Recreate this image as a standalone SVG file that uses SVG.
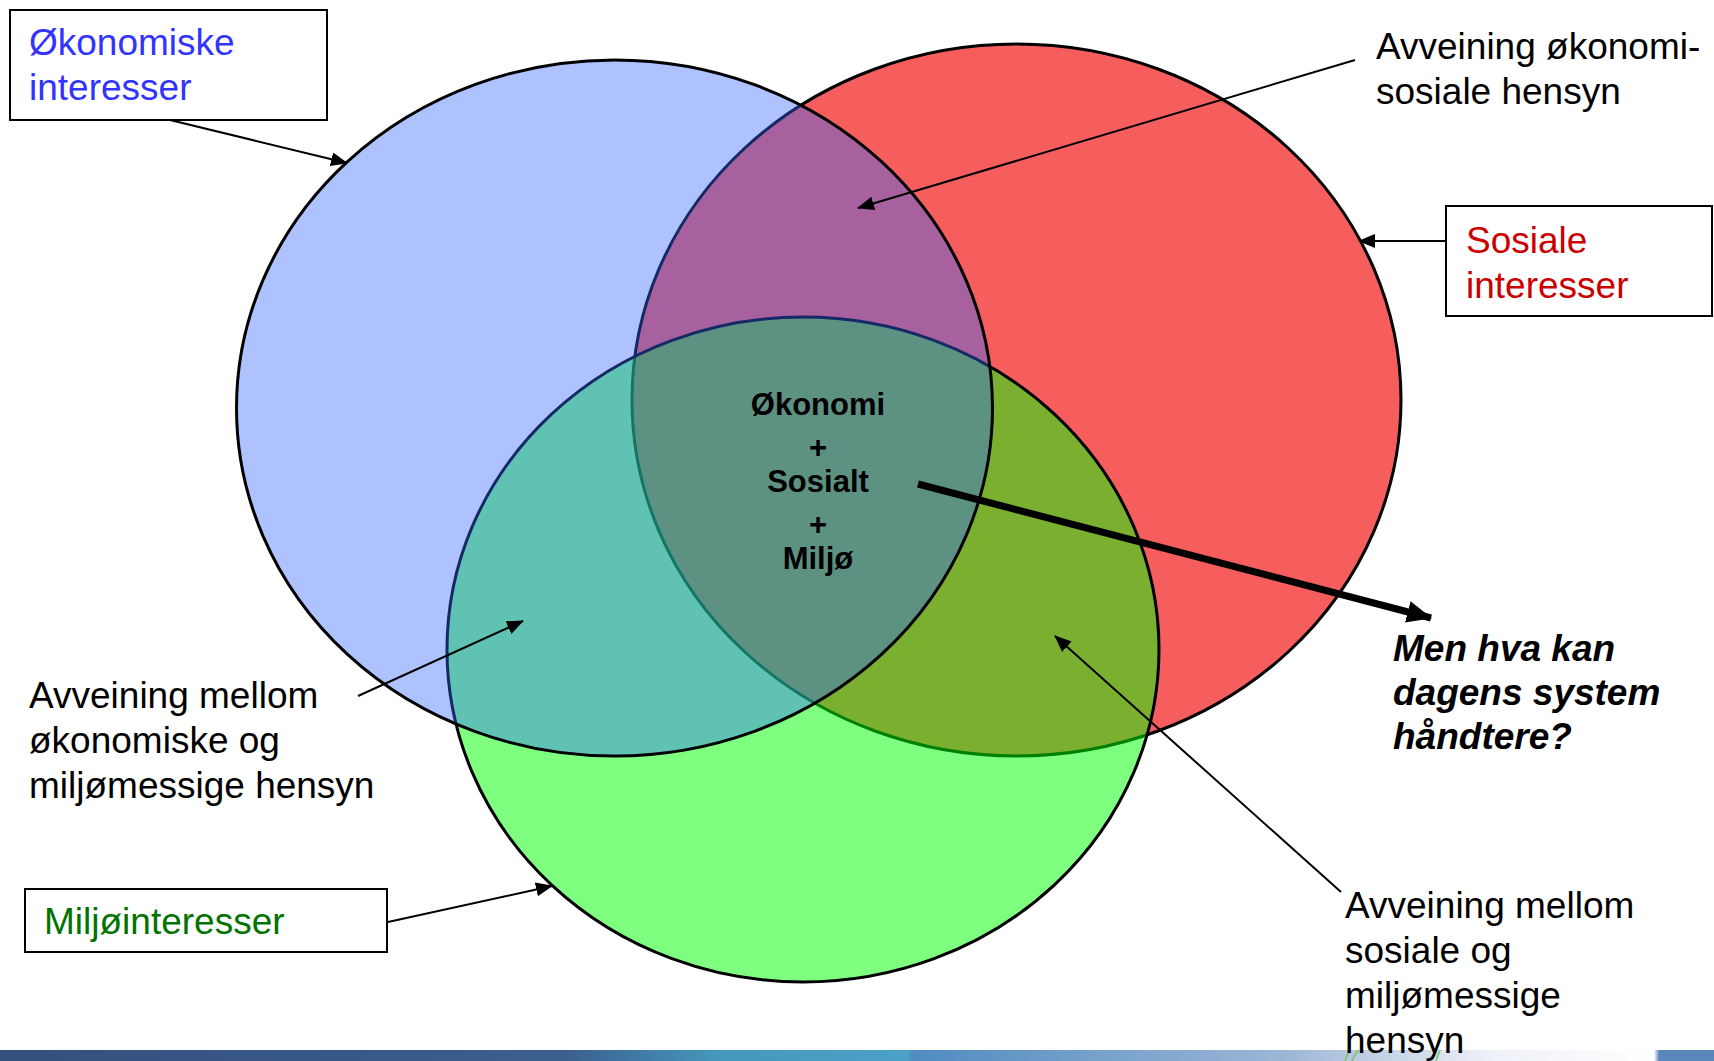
<svg xmlns="http://www.w3.org/2000/svg" width="1714" height="1061" viewBox="0 0 1714 1061">
<defs>
<style>
.t{font-family:"Liberation Sans",Arial,sans-serif;font-size:37px;fill:#000}
.c{font-family:"Liberation Sans",Arial,sans-serif;font-size:31px;font-weight:bold;fill:#000;text-anchor:middle}
.q{font-family:"Liberation Sans",Arial,sans-serif;font-size:37px;font-weight:bold;font-style:italic;fill:#000}
.box{fill:#fff;stroke:#000;stroke-width:2}
.ell{stroke:#000;stroke-width:3}
.con{stroke:#000;stroke-width:2;fill:none;marker-end:url(#ah)}
.grass{stroke:#7DBF5A;stroke-width:2;fill:none;opacity:0.8}
</style>
<marker id="ah" markerUnits="userSpaceOnUse" markerWidth="18" markerHeight="14" refX="16" refY="7" orient="auto">
<path d="M0,0 L17,7 L0,14 Z" fill="#000"/>
</marker>
<marker id="ahb" markerUnits="userSpaceOnUse" markerWidth="26" markerHeight="24" refX="24" refY="12" orient="auto">
<path d="M0,1 L25,12 L0,23 Z" fill="#000"/>
</marker>
<linearGradient id="bar" x1="0" y1="0" x2="1" y2="0">
<stop offset="0" stop-color="#34507E"/>
<stop offset="0.33" stop-color="#3B5F8F"/>
<stop offset="0.42" stop-color="#4698BC"/>
<stop offset="0.53" stop-color="#4AA2C6"/>
<stop offset="0.532" stop-color="#4F8CC0"/>
<stop offset="0.75" stop-color="#9DB6D6"/>
<stop offset="0.87" stop-color="#EEF1F8"/>
<stop offset="0.965" stop-color="#FFFFFF"/>
<stop offset="0.968" stop-color="#5A86BC"/>
<stop offset="1" stop-color="#5A86BC"/>
</linearGradient>
</defs>
<rect width="1714" height="1061" fill="#fff"/>

<g id="circle-sosial"><ellipse class="ell" cx="1016.5" cy="400" rx="384.5" ry="356" fill="#F65E5E"/></g>
<g id="circle-miljo"><ellipse class="ell" cx="803" cy="649.5" rx="356" ry="332.5" fill="#00FF00" fill-opacity="0.5"/></g>
<g id="circle-okonomi"><ellipse class="ell" cx="614.5" cy="408" rx="378" ry="348" fill="#3366FF" fill-opacity="0.4"/></g>

<g id="bottom-bar">
<rect x="0" y="1050" width="1714" height="11" fill="url(#bar)"/>
<path class="grass" d="M1345,1061 Q1347,1054 1350,1049"/>
<path class="grass" d="M1352,1061 Q1354,1056 1358,1050"/>
<path class="grass" d="M1436,1061 Q1438,1055 1440,1050"/>
</g>

<g id="center-label">
<text class="c" x="818" y="415">Økonomi</text>
<text class="c" x="818" y="458">+</text>
<text class="c" x="818" y="492">Sosialt</text>
<text class="c" x="818" y="535">+</text>
<text class="c" x="818" y="569">Miljø</text>
</g>

<g id="box-okonomi">
<rect class="box" x="10" y="10" width="317" height="110"/>
<text class="t" x="29" y="55" style="fill:#3333FF">Økonomiske</text>
<text class="t" x="29" y="100" style="fill:#3333FF">interesser</text>
</g>

<g id="box-sosiale">
<rect class="box" x="1446" y="206" width="266" height="110"/>
<text class="t" x="1466" y="253" style="fill:#CC0000">Sosiale</text>
<text class="t" x="1466" y="298" style="fill:#CC0000">interesser</text>
</g>

<g id="box-miljo">
<rect class="box" x="25" y="889" width="362" height="63"/>
<text class="t" x="44" y="934" style="fill:#007300">Miljøinteresser</text>
</g>

<g id="label-oko-sos">
<text class="t" x="1376" y="59">Avveining økonomi-</text>
<text class="t" x="1376" y="104">sosiale hensyn</text>
</g>

<g id="label-oko-mil">
<text class="t" x="29" y="708">Avveining mellom</text>
<text class="t" x="29" y="753">økonomiske og</text>
<text class="t" x="29" y="798">miljømessige hensyn</text>
</g>

<g id="label-sos-mil">
<text class="t" x="1345" y="918">Avveining mellom</text>
<text class="t" x="1345" y="963">sosiale og</text>
<text class="t" x="1345" y="1008">miljømessige</text>
<text class="t" x="1345" y="1053">hensyn</text>
</g>

<g id="label-question">
<text class="q" x="1393" y="661">Men hva kan</text>
<text class="q" x="1393" y="705">dagens system</text>
<text class="q" x="1393" y="749">håndtere?</text>
</g>

<g id="connectors">
<line class="con" x1="170" y1="120" x2="347" y2="163"/>
<line class="con" x1="1446" y1="241" x2="1359" y2="241"/>
<line class="con" x1="1355" y1="60" x2="858" y2="208"/>
<line class="con" x1="358" y1="696" x2="523" y2="621"/>
<line class="con" x1="388" y1="922" x2="552" y2="886"/>
<line class="con" x1="1341" y1="892" x2="1055" y2="636"/>
<line x1="918" y1="484" x2="1431" y2="618" stroke="#000" stroke-width="7" marker-end="url(#ahb)"/>
</g>
</svg>
